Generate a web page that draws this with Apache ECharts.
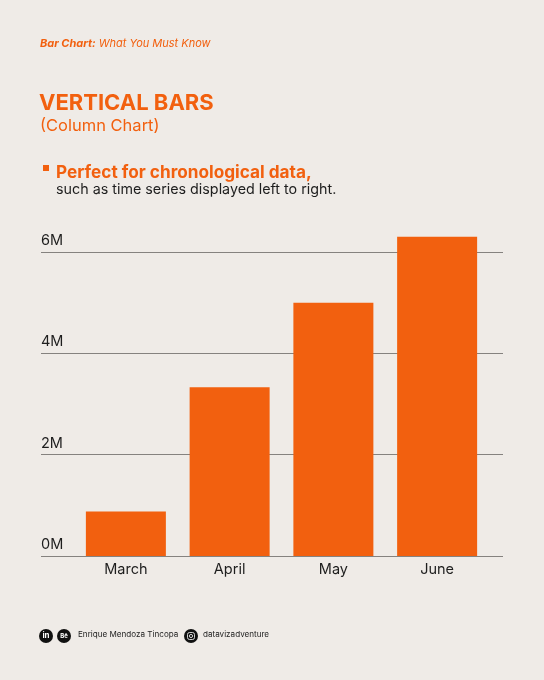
<!DOCTYPE html>
<html>
<head>
<meta charset="utf-8">
<script src="https://cdn.jsdelivr.net/npm/echarts@6/dist/echarts.min.js"></script>
<style>
  html, body { margin: 0; padding: 0; background: #efebe7; }
  #chart { width: 544px; height: 680px; }
</style>
</head>
<body>
<div id="chart"></div>
<script>
(function () {
	"use strict";

	// data
	var months = ['March', 'April', 'May', 'June'];
	var sales = [880000, 3330000, 5000000, 6300000];
	var yTicks = [0, 2000000, 4000000, 6000000];

	var orange = '#f2600f';
	var ink = '#1e1e1e';
	var font = 'Inter, "Noto Sans", sans-serif';

	var chart = echarts.init(document.getElementById('chart'), null, { renderer: 'canvas' });

	var option = {
		backgroundColor: '#efebe7',
		animation: false,
		grid: [
			// grid 0: full-width gridlines and tick labels
			{ left: 41, right: 41, top: 252, bottom: 124 },
			// grid 1: the bars, same vertical scale, narrower band
			{ left: 74, right: 55, top: 252 - 50.67, bottom: 124 }
		],
		xAxis: [{
			gridIndex: 0,
			type: 'category',
			data: months,
			show: false
		}, {
			gridIndex: 1,
			type: 'category',
			data: months,
			axisLine: { show: false },
			axisTick: { show: false },
			axisLabel: { color: ink, fontSize: 14.5, fontFamily: font, margin: 6 }
		}],
		yAxis: [{
			gridIndex: 0,
			type: 'value',
			min: yTicks[0],
			max: yTicks[yTicks.length - 1],
			interval: 2000000,
			axisLine: { show: false },
			axisTick: { show: false },
			splitLine: { lineStyle: { color: '#85827f', width: 1 } },
			axisLabel: {
				inside: true,
				margin: 0,
				verticalAlign: 'bottom',
				padding: [0, 0, 4, 0],
				color: ink,
				fontSize: 14.5,
				fontFamily: font,
				formatter: function (v) { return (v / 1000000) + 'M'; }
			}
		}, {
			gridIndex: 1,
			type: 'value',
			min: 0,
			max: 7000000,
			show: false
		}],
		series: [{
			type: 'bar',
			xAxisIndex: 1,
			yAxisIndex: 1,
			data: sales,
			barWidth: 80,
			itemStyle: { color: orange },
			z: 3
		}],
		graphic: [
			{ type: 'text', left: 40, top: 38, style: {
				text: '{b|Bar Chart:} What You Must Know',
				fill: orange, font: 'italic 11px ' + font,
				rich: { b: { fill: orange, fontWeight: 'bold', fontStyle: 'italic', fontSize: 11, fontFamily: 'Inter' } }
			} },
			{ type: 'text', left: 39, top: 92, style: {
				text: 'VERTICAL BARS', fill: orange, font: 'bold 22px ' + font
			} },
			{ type: 'text', left: 40, top: 118, style: {
				text: '(Column Chart)', fill: orange, font: '16.5px ' + font
			} },
			{ type: 'rect', shape: { x: 43, y: 165, width: 6, height: 6 }, style: { fill: orange } },
			{ type: 'text', left: 56, top: 164, style: {
				text: 'Perfect for chronological data,', fill: orange, font: 'bold 17.2px ' + font
			} },
			{ type: 'text', left: 56, top: 183, style: {
				text: 'such as time series displayed left to right.', fill: ink, font: '14.3px ' + font
			} },

			// footer
			{ type: 'circle', shape: { cx: 46, cy: 636, r: 7 }, style: { fill: '#111' } },
			{ type: 'text', x: 46, y: 636, style: { text: 'in', fill: '#fff', font: 'bold 8px ' + font, align: 'center', verticalAlign: 'middle' } },
			{ type: 'circle', shape: { cx: 64, cy: 636, r: 7 }, style: { fill: '#111' } },
			{ type: 'text', x: 64, y: 636, style: { text: 'Bē', fill: '#fff', font: 'bold 6px ' + font, align: 'center', verticalAlign: 'middle' } },
			{ type: 'text', left: 78, top: 631, style: { text: 'Enrique Mendoza Tincopa', fill: ink, font: '8.1px ' + font } },
			{ type: 'circle', shape: { cx: 191, cy: 636, r: 7 }, style: { fill: '#111' } },
			{ type: 'rect', shape: { x: 187.5, y: 632.5, width: 7, height: 7, r: 2 }, style: { fill: 'none', stroke: '#fff', lineWidth: 0.8 } },
			{ type: 'circle', shape: { cx: 191, cy: 636, r: 1.6 }, style: { fill: 'none', stroke: '#fff', lineWidth: 0.8 } },
			{ type: 'text', left: 203, top: 631, style: { text: 'datavizadventure', fill: ink, font: '8.1px ' + font } }
		]
	};

	chart.setOption(option);
})();
</script>
</body>
</html>
